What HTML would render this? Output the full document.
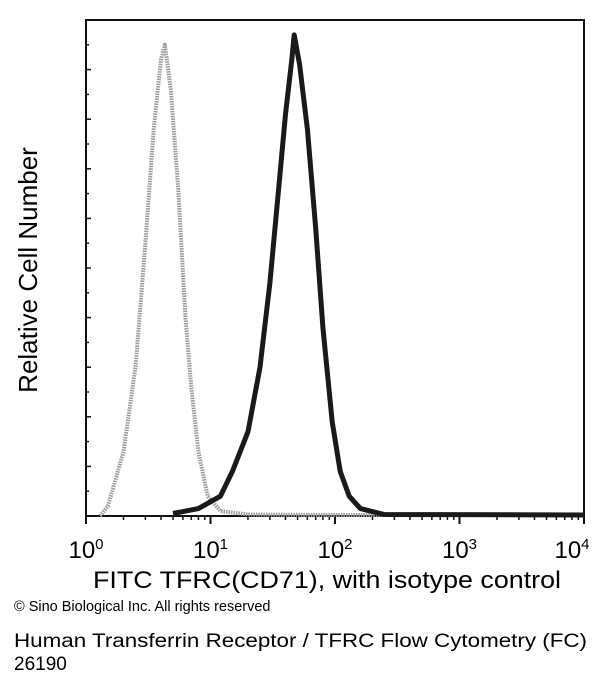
<!DOCTYPE html>
<html><head><meta charset="utf-8"><style>
body{margin:0;background:#fff;}
svg{display:block;font-family:"Liberation Sans",Arial,sans-serif;}
</style></head><body>
<svg id="chart" width="600" height="690" viewBox="0 0 600 690">
<rect x="0" y="0" width="600" height="690" fill="#fff"/>
<g id="plot"></g>
<text x="37" y="270" transform="rotate(-90 37 270)" text-anchor="middle" font-size="26">Relative Cell Number</text>
<text x="93" y="588" font-size="24" textLength="468" lengthAdjust="spacingAndGlyphs">FITC TFRC(CD71), with isotype control</text>
<text x="14" y="611" font-size="14.5">© Sino Biological Inc. All rights reserved</text>
<text x="14" y="647" font-size="19" textLength="573" lengthAdjust="spacingAndGlyphs">Human Transferrin Receptor / TFRC Flow Cytometry (FC)</text>
<text x="14" y="670" font-size="19">26190</text>
</svg>
<script>
const decades = [0, 1, 2, 3, 4];
const isoX = [1.3, 1.5, 2, 2.5, 3, 3.5, 4, 4.3, 4.8, 5.5, 6.3, 7, 8, 9.5, 12, 20, 100, 10000];
const isoY = [0, 2, 13, 30, 55, 78, 92, 95, 86, 66, 40, 26, 13, 4, 1, 0.3, 0.2, 0.2];
const tfrcX = [5, 8, 12, 15, 20, 25, 30, 35, 40, 45, 47, 52, 60, 70, 80, 95, 110, 130, 160, 250, 10000];
const tfrcY = [0.5, 1.5, 4, 9, 17, 30, 47, 65, 81, 92, 97, 91, 78, 58, 38, 19, 9, 4, 1.5, 0.3, 0.2];
const yMax = 100;

const NS = 'http://www.w3.org/2000/svg';
const L = 86, R = 584, T = 20, B = 516;
function xs(v){ return L + Math.log10(v) / 4 * (R - L); }
function ys(v){ return B - v / yMax * (B - T); }
const g = document.getElementById('plot');
function mk(tag, attrs){ const e = document.createElementNS(NS, tag); for (const k in attrs) e.setAttribute(k, attrs[k]); g.appendChild(e); return e; }

const frame = mk('rect', {x: L, y: T, width: R - L, height: B - T, fill: 'none', stroke: '#111', 'stroke-width': 2});



for (let i = 1; i < 20; i++) {
  const y = B - i * (B - T) / 20;
  const t = mk('line', {x1: L, x2: L + (i % 2 ? 3 : 5), y1: y, y2: y, stroke: '#111', 'stroke-width': 1.5});
  
  
}
decades.forEach((d, i) => {
  const x = xs(Math.pow(10, d));
  const t = mk('line', {x1: x, x2: x, y1: B, y2: B + 8, stroke: '#111', 'stroke-width': 2});
  
  
  if (i < decades.length - 1) {
    for (let m = 2; m < 10; m++) {
      const xm = xs(m * Math.pow(10, d));
      const tm = mk('line', {x1: xm, x2: xm, y1: B, y2: B + 4, stroke: '#111', 'stroke-width': 1.5});
      
      
    }
  }
  const lab = mk('text', {x: x - (i === decades.length - 1 ? 12 : 0), y: 558, 'font-size': 24, 'text-anchor': 'middle'});
  lab.innerHTML = '10<tspan dy="-9" font-size="15">' + d + '</tspan>';
  
  
});

function series(X, Y, attrs, name){
  const pts = X.map((v, i) => xs(v).toFixed(1) + ',' + ys(Y[i]).toFixed(1)).join(' ');
  const p = mk('polyline', Object.assign({points: pts, fill: 'none', 'stroke-linejoin': 'round'}, attrs));
  
  
}
series(isoX, isoY, {stroke: '#999', 'stroke-width': 4, 'stroke-dasharray': '1.5 1'}, 'isotype-control-curve');
series(tfrcX, tfrcY, {stroke: '#1a1a1a', 'stroke-width': 5}, 'tfrc-curve');
</script>
</body></html>
